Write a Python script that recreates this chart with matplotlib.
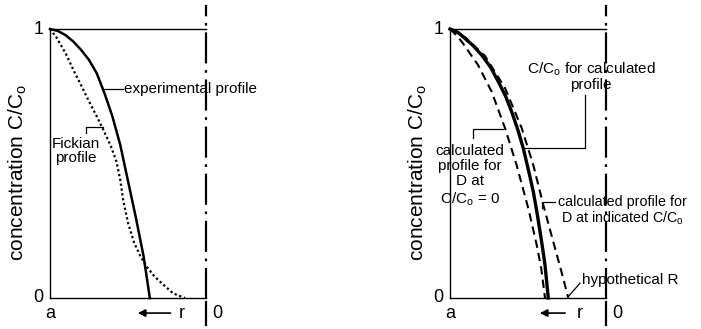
import matplotlib.pyplot as plt

plt.rcParams['font.family'] = ['Liberation Sans', 'DejaVu Sans']
plt.rcParams['mathtext.fontset'] = 'custom'
plt.rcParams['mathtext.rm'] = 'Liberation Sans'

# ─── data (x: 0 = a, 1 = centre; y: C/Co) ─────────────────────────────────
exp_x = [0, 0.05, 0.10, 0.15, 0.20, 0.25, 0.30, 0.35, 0.40, 0.45, 0.50, 0.55, 0.60, 0.64]
exp_y = [1, 0.993, 0.977, 0.953, 0.922, 0.885, 0.835, 0.76, 0.675, 0.57, 0.435, 0.30, 0.155, 0]

fick_x = [0, 0.04, 0.10, 0.15, 0.20, 0.256, 0.30, 0.342, 0.39, 0.427, 0.45, 0.47,
          0.50, 0.54, 0.58, 0.62, 0.67, 0.716, 0.79, 0.865]
fick_y = [1, 0.97, 0.91, 0.848, 0.79, 0.724, 0.675, 0.625, 0.565, 0.505, 0.44, 0.36,
          0.28, 0.204, 0.155, 0.116, 0.08, 0.055, 0.017, 0]

calc_x = [0, 0.05, 0.096, 0.15, 0.203, 0.26, 0.31, 0.355, 0.395, 0.435, 0.47,
          0.505, 0.534, 0.557, 0.577, 0.595, 0.609, 0.63]
calc_y = [1, 0.988, 0.965, 0.937, 0.903, 0.858, 0.804, 0.752, 0.693, 0.625, 0.556,
          0.47, 0.395, 0.32, 0.247, 0.18, 0.123, 0]

d0_x = [0, 0.035, 0.075, 0.18, 0.267, 0.353, 0.427, 0.502, 0.556, 0.585, 0.609]
d0_y = [1, 0.98, 0.953, 0.866, 0.767, 0.631, 0.494, 0.333, 0.197, 0.11, 0]

dind_x = [0, 0.10, 0.224, 0.353, 0.46, 0.534, 0.598, 0.662, 0.726, 0.758]
dind_y = [1, 0.968, 0.90, 0.78, 0.631, 0.494, 0.346, 0.209, 0.073, 0]

CO = 'C/C$_\\mathrm{o}$'
K = 'black'

fig = plt.figure(figsize=(7.01, 3.29), dpi=100)
ax1 = fig.add_axes([50/701, 31/329, 156/701, 269/329])
ax2 = fig.add_axes([450/701, 31/329, 156/701, 269/329])


def frame(ax):
    ax.set_xlim(0, 1)
    ax.set_ylim(0, 1)
    ax.spines['right'].set_visible(False)
    for s in ['left', 'bottom', 'top']:
        ax.spines[s].set_linewidth(1.0)
    ax.set_xticks([])
    ax.set_yticks([])
    # centre line
    ax.plot([1, 1], [-0.005, 1.09], color=K, lw=1.6,
            linestyle=(0, (14, 3, 1.2, 3)), clip_on=False)
    ax.plot([1, 1], [-0.015, -0.10], color=K, lw=1.6, clip_on=False)
    ax.text(-0.075, 1.0, '1', fontsize=13, ha='center', va='center')
    ax.text(-0.075, 0.0, '0', fontsize=13, ha='center', va='center')
    ax.text(0.0, -0.056, 'a', fontsize=13, ha='center', va='center')
    ax.text(1.075, -0.056, '0', fontsize=13, ha='center', va='center')
    ax.text(-0.205, 0.465, 'concentration ' + CO, fontsize=15,
            rotation=90, ha='center', va='center', transform=ax.transAxes)


frame(ax1)
frame(ax2)

# ─── left panel ───────────────────────────────────────────────────────────
ax1.plot(exp_x, exp_y, color=K, lw=1.8, clip_on=False)
ax1.plot(fick_x, fick_y, color=K, lw=1.6, linestyle=(0, (1, 1.2)), clip_on=False)

ax1.plot([0.34, 0.468], [0.777, 0.777], color=K, lw=0.9)
ax1.text(0.474, 0.777, 'experimental profile', fontsize=11, va='center')

ax1.plot([0.231, 0.231, 0.34], [0.613, 0.636, 0.636], color=K, lw=0.9)
ax1.text(0.167, 0.545, 'Fickian\nprofile', fontsize=11, ha='center',
         va='center', linespacing=1.0)

ax1.annotate('', xy=(0.545, -0.056), xytext=(0.79, -0.056),
             arrowprops=dict(arrowstyle='-|>', color=K, lw=1.2,
                             mutation_scale=11), annotation_clip=False)
ax1.text(0.846, -0.056, 'r', fontsize=13, ha='center', va='center')

# ─── right panel ──────────────────────────────────────────────────────────
ax2.plot(calc_x, calc_y, color=K, lw=2.4, clip_on=False)
ax2.plot(d0_x, d0_y, color=K, lw=1.5, linestyle=(0, (4, 2.5)), clip_on=False)
ax2.plot(dind_x, dind_y, color=K, lw=1.5, linestyle=(0, (4, 2.5)), clip_on=False)

ax2.plot([0.481, 0.865, 0.865], [0.558, 0.558, 0.755], color=K, lw=0.9)
ax2.text(0.904, 0.824, CO + ' for calculated\nprofile', fontsize=11,
         ha='center', va='center', linespacing=1.05)

ax2.plot([0.147, 0.147, 0.342], [0.595, 0.628, 0.628], color=K, lw=0.9)
ax2.text(0.128, 0.455, 'calculated\nprofile for\nD at\n' + CO + ' = 0',
         fontsize=11, ha='center', va='center', linespacing=1.12)

ax2.plot([0.59, 0.59, 0.673], [0.335, 0.357, 0.357], color=K, lw=0.9)
ax2.text(0.692, 0.325, 'calculated profile for\nD at indicated ' + CO,
         fontsize=10.3, ha='left', va='center', multialignment='center',
         linespacing=1.05)

ax2.plot([0.758, 0.833], [0.005, 0.055], color=K, lw=0.9, clip_on=False)
ax2.text(0.846, 0.067, 'hypothetical R', fontsize=11, va='center')

ax2.annotate('', xy=(0.558, -0.056), xytext=(0.756, -0.056),
             arrowprops=dict(arrowstyle='-|>', color=K, lw=1.2,
                             mutation_scale=11), annotation_clip=False)
ax2.text(0.833, -0.056, 'r', fontsize=13, ha='center', va='center')

plt.savefig('out.png', dpi=100)
